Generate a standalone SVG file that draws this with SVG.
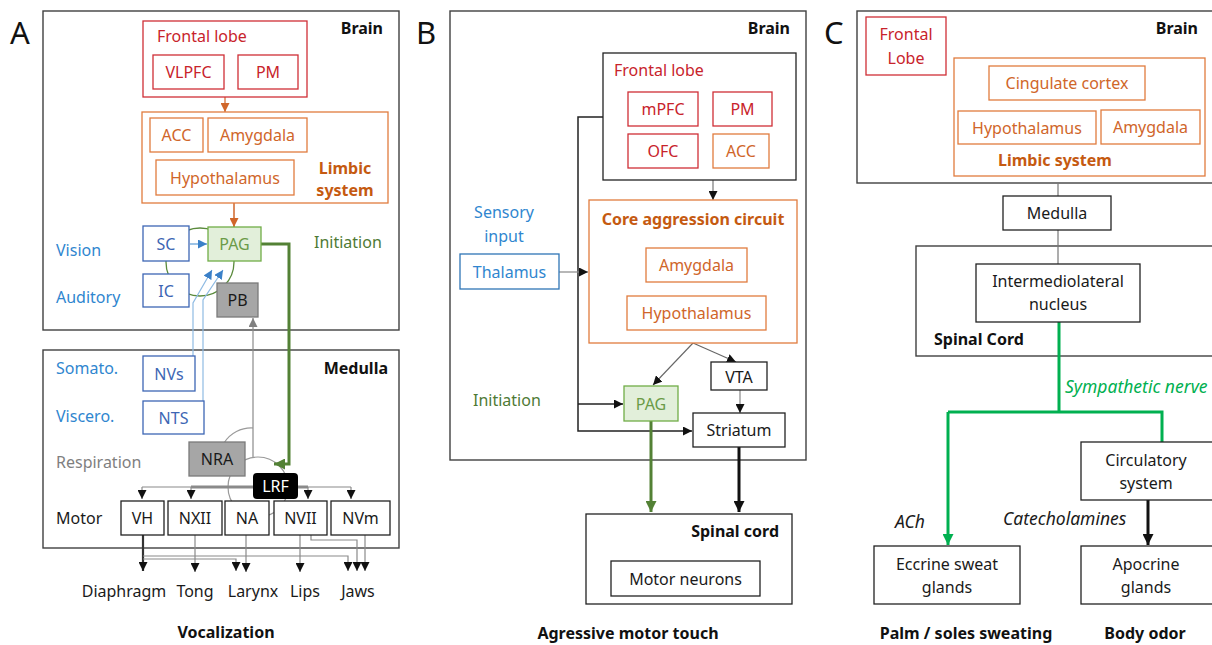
<svg xmlns="http://www.w3.org/2000/svg" width="1212" height="645" viewBox="0 0 1212 645">
<style>
text{font-family:"Noto Sans","Open Sans","DejaVu Sans",sans-serif;font-size:16px;}
.b{font-weight:bold;font-size:16px;fill:#111;}
.big{font-size:31px;fill:#111;}
.mid{text-anchor:middle;}
.end{text-anchor:end;}
.it{font-style:italic;font-size:17.5px;}
.frame{fill:#fff;stroke:#404040;stroke-width:1.4;}
.red{fill:#fff;stroke:#cf2f36;stroke-width:1.3;}
.redt{fill:#c8232b;}
.org{fill:#fff;stroke:#e07c3e;stroke-width:1.3;}
.orgt{fill:#d0662a;}
.orgb{fill:#c55a11;font-weight:bold;font-size:16px;}
.blu{fill:#fff;stroke:#3d66b4;stroke-width:1.3;}
.blut{fill:#3d66b4;}
.lbl{fill:#2f86cf;}
.pag{fill:#e2efda;stroke:#70ad47;stroke-width:1.3;}
.pagt{fill:#6b9b47;}
.grn{fill:#4f7a35;}
.gry{fill:#a6a6a6;stroke:#7a7a7a;stroke-width:1.3;}
.blk{fill:#fff;stroke:#222;stroke-width:1.3;}
.t{fill:#1a1a1a;}
</style>
<defs>
<marker id="aO" viewBox="0 0 10 10" refX="10" refY="5" markerWidth="9" markerHeight="9" markerUnits="userSpaceOnUse" orient="auto"><path d="M0,0 L10,5 L0,10 z" fill="#d0662a"/></marker>
<marker id="aB" viewBox="0 0 10 10" refX="10" refY="5" markerWidth="9" markerHeight="9" markerUnits="userSpaceOnUse" orient="auto"><path d="M0,0 L10,5 L0,10 z" fill="#3a80c8"/></marker>
<marker id="aG" viewBox="0 0 10 10" refX="10" refY="5" markerWidth="9" markerHeight="9" markerUnits="userSpaceOnUse" orient="auto"><path d="M0,0 L10,5 L0,10 z" fill="#808080"/></marker>
<marker id="aK" viewBox="0 0 10 10" refX="10" refY="5" markerWidth="9" markerHeight="9" markerUnits="userSpaceOnUse" orient="auto"><path d="M0,0 L10,5 L0,10 z" fill="#111"/></marker>
<marker id="aKb" viewBox="0 0 10 10" refX="10" refY="5" markerWidth="11" markerHeight="11" markerUnits="userSpaceOnUse" orient="auto"><path d="M0,0 L10,5 L0,10 z" fill="#111"/></marker>
<marker id="aV" viewBox="0 0 10 10" refX="10" refY="5" markerWidth="11" markerHeight="11" markerUnits="userSpaceOnUse" orient="auto"><path d="M0,0 L10,5 L0,10 z" fill="#538135"/></marker>
<marker id="aS" viewBox="0 0 10 10" refX="10" refY="5" markerWidth="11" markerHeight="11" markerUnits="userSpaceOnUse" orient="auto"><path d="M0,0 L10,5 L0,10 z" fill="#00b050"/></marker>
</defs>

<!-- Panel letters & frames -->
<text class="big" x="10" y="44">A</text>
<text class="big" x="416" y="44">B</text>
<text class="big" x="824" y="44">C</text>

<g id="A-brain"><rect class="frame" x="43" y="11" width="356" height="319"/><text class="b end" x="383" y="34">Brain</text></g>
<g id="A-medulla"><rect class="frame" x="43" y="350" width="356" height="198"/><text class="b end" x="388" y="374">Medulla</text></g>
<g id="B-brain"><rect class="frame" x="450" y="11" width="356" height="449"/><text class="b end" x="790" y="34">Brain</text></g>
<g id="C-brain"><rect class="frame" x="857" y="11" width="360" height="172"/><text class="b end" x="1198" y="34">Brain</text></g>
<g id="C-spinal"><rect class="frame" x="916" y="246" width="300" height="110"/><text class="b" x="934" y="345">Spinal Cord</text></g>

<!-- background arcs (behind nodes) -->
<g id="A-arcs" fill="none">
<circle cx="200" cy="262" r="34" stroke="#5a8a3c" stroke-width="1.3"/>
<circle cx="258" cy="487" r="30" stroke="#9a9a9a" stroke-width="1.2"/>
<path d="M224,443 A32,32 0 0 1 253,428" stroke="#9a9a9a" stroke-width="1.2"/>
</g>

<!-- Connectors -->
<g id="connectors" fill="none">
<!-- Panel A -->
<path d="M225,97 L225,112" stroke="#d0662a" stroke-width="1.2" marker-end="url(#aO)"/>
<path d="M234,203 L234,227" stroke="#d0662a" stroke-width="1.5" marker-end="url(#aO)"/>
<path d="M190,244 L207,244" stroke="#5b9bd5" stroke-width="1.2" marker-end="url(#aB)"/>
<path d="M193,356 L193,303 L212,270" stroke="#8fbbe3" stroke-width="1.2" marker-end="url(#aB)"/>
<path d="M203,401 L203,300 L223,270" stroke="#8fbbe3" stroke-width="1.2" marker-end="url(#aB)"/>
<path d="M253,457 L253,318" stroke="#8a8a8a" stroke-width="1.2" marker-end="url(#aG)"/>
<path d="M261,244 L289,244 L289,464 L274,464" stroke="#538135" stroke-width="3" marker-end="url(#aV)"/>
<path d="M142,487 L351,487" stroke="#8a8a8a" stroke-width="1.2"/>
<path d="M191,487 L308,487" stroke="#8a8a8a" stroke-width="3"/>
<path d="M142,487 L142,499" stroke="#8a8a8a" stroke-width="1.2" marker-end="url(#aK)"/>
<path d="M191,487 L191,499" stroke="#8a8a8a" stroke-width="1.2" marker-end="url(#aK)"/>
<path d="M308,487 L308,499" stroke="#8a8a8a" stroke-width="1.2" marker-end="url(#aK)"/>
<path d="M351,487 L351,499" stroke="#8a8a8a" stroke-width="1.2" marker-end="url(#aK)"/>
<path d="M143,535 L143,571" stroke="#333" stroke-width="2.2" marker-end="url(#aK)"/>
<path d="M143,556 L348,556 L348,571" stroke="#8a8a8a" stroke-width="1.2" marker-end="url(#aK)"/>
<path d="M143,559 L236,559 L236,571" stroke="#8a8a8a" stroke-width="1.2" marker-end="url(#aK)"/>
<path d="M195,535 L195,572" stroke="#8a8a8a" stroke-width="1.2" marker-end="url(#aK)"/>
<path d="M246,535 L246,572" stroke="#8a8a8a" stroke-width="1.2" marker-end="url(#aK)"/>
<path d="M300,535 L300,572" stroke="#8a8a8a" stroke-width="1.2" marker-end="url(#aK)"/>
<path d="M311,535 L311,540 L357,540 L357,571" stroke="#8a8a8a" stroke-width="1.2" marker-end="url(#aK)"/>
<path d="M365,535 L365,571" stroke="#8a8a8a" stroke-width="1.2" marker-end="url(#aK)"/>
<!-- Panel B -->
<path d="M713,180 L713,200" stroke="#777" stroke-width="1.2" marker-end="url(#aK)"/>
<path d="M603,117 L578,117 L578,431 L692,431" stroke="#222" stroke-width="1.5" marker-end="url(#aK)"/>
<path d="M578,404 L623,404" stroke="#222" stroke-width="1.5" marker-end="url(#aK)"/>
<path d="M559,272 L588,272" stroke="#888" stroke-width="1.2" marker-end="url(#aK)"/>
<path d="M693,343 L653,385" stroke="#666" stroke-width="1.1" marker-end="url(#aK)"/>
<path d="M693,343 L736,362" stroke="#666" stroke-width="1.1" marker-end="url(#aK)"/>
<path d="M697,282 L697,296" stroke="#d0662a" stroke-width="1.2" marker-end="url(#aO)"/>
<path d="M740,390 L740,413" stroke="#888" stroke-width="1.2" marker-end="url(#aK)"/>
<path d="M651,421 L651,512" stroke="#538135" stroke-width="3" marker-end="url(#aV)"/>
<path d="M739,447 L739,512" stroke="#111" stroke-width="3" marker-end="url(#aKb)"/>
<!-- Panel C -->
<path d="M1058,183 L1058,196 M1058,230 L1058,264" stroke="#777" stroke-width="1.2"/>
<path d="M1059,322 L1059,412 M948,412 L1162,412 L1162,442" stroke="#00b050" stroke-width="3"/>
<path d="M948,412 L948,545" stroke="#00b050" stroke-width="3" marker-end="url(#aS)"/>
<path d="M1148,500 L1148,545" stroke="#111" stroke-width="3" marker-end="url(#aKb)"/>
</g>

<!-- Panel A nodes -->
<g id="A-frontal"><rect class="red" x="143" y="21" width="164" height="76"/><text class="redt" x="157" y="42">Frontal lobe</text></g>
<g id="A-vlpfc"><rect class="red" x="153" y="55" width="71" height="34"/><text class="redt mid" x="188.5" y="78">VLPFC</text></g>
<g id="A-pm"><rect class="red" x="238" y="55" width="60" height="34"/><text class="redt mid" x="268" y="78">PM</text></g>
<g id="A-limbic"><rect class="org" x="142" y="112" width="246" height="91"/><text class="orgb mid" x="345" y="174">Limbic</text><text class="orgb mid" x="345" y="196">system</text></g>
<g id="A-acc"><rect class="org" x="150" y="118" width="53" height="34"/><text class="orgt mid" x="176.5" y="141">ACC</text></g>
<g id="A-amyg"><rect class="org" x="208" y="118" width="99" height="34"/><text class="orgt mid" x="257.5" y="141">Amygdala</text></g>
<g id="A-hypo"><rect class="org" x="156" y="160" width="138" height="35"/><text class="orgt mid" x="225" y="184">Hypothalamus</text></g>
<g id="A-sc"><rect class="blu" x="143" y="226" width="46" height="35"/><text class="blut mid" x="166" y="250">SC</text></g>
<g id="A-ic"><rect class="blu" x="143" y="274" width="46" height="33"/><text class="blut mid" x="166" y="297">IC</text></g>
<g id="A-pag"><rect class="pag" x="208" y="227" width="53" height="34"/><text class="pagt mid" x="234.5" y="250">PAG</text></g>
<g id="A-pb"><rect class="gry" x="217" y="283" width="41" height="34"/><text class="t mid" x="237.5" y="306">PB</text></g>
<g id="A-nvs"><rect class="blu" x="143" y="356" width="52" height="35"/><text class="blut mid" x="169" y="380">NVs</text></g>
<g id="A-nts"><rect class="blu" x="143" y="401" width="61" height="33"/><text class="blut mid" x="173.5" y="424">NTS</text></g>
<g id="A-nra"><rect class="gry" x="189" y="442" width="56" height="34"/><text class="t mid" x="217" y="465">NRA</text></g>
<g id="A-lrf"><rect x="253" y="473" width="45" height="26" rx="4" fill="#000"/><text class="mid" x="275.5" y="492" fill="#fff">LRF</text></g>
<g id="A-vh"><rect class="blk" x="121" y="501" width="43" height="34"/><text class="t mid" x="142.5" y="524">VH</text></g>
<g id="A-nxii"><rect class="blk" x="168" y="501" width="54" height="34"/><text class="t mid" x="195" y="524">NXII</text></g>
<g id="A-na"><rect class="blk" x="225" y="501" width="44" height="34"/><text class="t mid" x="247" y="524">NA</text></g>
<g id="A-nvii"><rect class="blk" x="274" y="501" width="53" height="34"/><text class="t mid" x="300.5" y="524">NVII</text></g>
<g id="A-nvm"><rect class="blk" x="331" y="501" width="59" height="34"/><text class="t mid" x="360.5" y="524">NVm</text></g>
<g id="A-labels">
<text class="lbl" x="56" y="256">Vision</text>
<text class="lbl" x="56" y="303">Auditory</text>
<text class="grn" x="314" y="248">Initiation</text>
<text class="lbl" x="56" y="374">Somato.</text>
<text class="lbl" x="56" y="422">Viscero.</text>
<text x="56" y="468" fill="#7f7f7f">Respiration</text>
<text class="t" x="56" y="524">Motor</text>
<text class="t mid" x="124" y="597">Diaphragm</text>
<text class="t mid" x="195" y="597">Tong</text>
<text class="t mid" x="253" y="597">Larynx</text>
<text class="t mid" x="305" y="597">Lips</text>
<text class="t mid" x="358" y="597">Jaws</text>
<text class="b mid" x="226" y="638">Vocalization</text>
</g>

<!-- Panel B nodes -->
<g id="B-frontal"><rect class="blk" x="603" y="53" width="193" height="127"/><text class="redt" x="614" y="76">Frontal lobe</text></g>
<g id="B-mpfc"><rect class="red" x="628" y="92" width="70" height="34"/><text class="redt mid" x="663" y="115">mPFC</text></g>
<g id="B-pm"><rect class="red" x="713" y="92" width="59" height="34"/><text class="redt mid" x="742.5" y="115">PM</text></g>
<g id="B-ofc"><rect class="red" x="628" y="134" width="70" height="34"/><text class="redt mid" x="663" y="157">OFC</text></g>
<g id="B-acc"><rect class="org" x="713" y="134" width="56" height="34"/><text class="orgt mid" x="741" y="157">ACC</text></g>
<g id="B-core"><rect class="org" x="589" y="200" width="208" height="143"/><text class="orgb mid" x="693" y="225">Core aggression circuit</text></g>
<g id="B-amyg"><rect class="org" x="646" y="248" width="101" height="34"/><text class="orgt mid" x="696.5" y="271">Amygdala</text></g>
<g id="B-hypo"><rect class="org" x="627" y="296" width="139" height="34"/><text class="orgt mid" x="696.5" y="319">Hypothalamus</text></g>
<g id="B-thal"><rect x="460" y="254" width="99" height="35" fill="#fff" stroke="#2e75b6" stroke-width="1.3"/><text class="lbl mid" x="509.5" y="278">Thalamus</text></g>
<g id="B-vta"><rect class="blk" x="711" y="362" width="56" height="28"/><text class="t mid" x="739" y="383">VTA</text></g>
<g id="B-striatum"><rect class="blk" x="693" y="413" width="92" height="34"/><text class="t mid" x="739" y="436">Striatum</text></g>
<g id="B-pag"><rect class="pag" x="624" y="386" width="54" height="35"/><text class="pagt mid" x="651" y="410">PAG</text></g>
<g id="B-spinal"><rect class="blk" x="586" y="514" width="206" height="90"/><text class="b end" x="779" y="537">Spinal cord</text></g>
<g id="B-motor"><rect class="blk" x="611" y="561" width="149" height="35"/><text class="t mid" x="685.5" y="585">Motor neurons</text></g>
<g id="B-labels">
<text class="lbl mid" x="504" y="218">Sensory</text>
<text class="lbl mid" x="504" y="242">input</text>
<text class="grn" x="473" y="406">Initiation</text>
<text class="b mid" x="628" y="639">Agressive motor touch</text>
</g>

<!-- Panel C nodes -->
<g id="C-frontal"><rect class="red" x="866" y="17" width="80" height="58"/><text class="redt mid" x="906" y="40">Frontal</text><text class="redt mid" x="906" y="64">Lobe</text></g>
<g id="C-limbic"><rect class="org" x="954" y="58" width="251" height="118"/><text class="orgb mid" x="1055" y="166">Limbic system</text></g>
<g id="C-cing"><rect class="org" x="989" y="66" width="156" height="34"/><text class="orgt mid" x="1067" y="89">Cingulate cortex</text></g>
<g id="C-hypo"><rect class="org" x="958" y="111" width="138" height="33"/><text class="orgt mid" x="1027" y="134">Hypothalamus</text></g>
<g id="C-amyg"><rect class="org" x="1101" y="110" width="99" height="34"/><text class="orgt mid" x="1150.5" y="133">Amygdala</text></g>
<g id="C-medulla"><rect class="blk" x="1003" y="196" width="108" height="34"/><text class="t mid" x="1057" y="219">Medulla</text></g>
<g id="C-iml"><rect class="blk" x="976" y="264" width="164" height="58"/><text class="t mid" x="1058" y="287">Intermediolateral</text><text class="t mid" x="1058" y="310">nucleus</text></g>
<g id="C-circ"><rect class="blk" x="1081" y="442" width="140" height="58"/><text class="t mid" x="1146" y="466">Circulatory</text><text class="t mid" x="1146" y="489">system</text></g>
<g id="C-eccrine"><rect class="blk" x="874" y="546" width="146" height="58"/><text class="t mid" x="947" y="570">Eccrine sweat</text><text class="t mid" x="947" y="593">glands</text></g>
<g id="C-apocrine"><rect class="blk" x="1081" y="546" width="140" height="58"/><text class="t mid" x="1146" y="570">Apocrine</text><text class="t mid" x="1146" y="593">glands</text></g>
<g id="C-labels">
<text class="it" x="1065" y="393" fill="#00b050">Sympathetic nerve</text>
<text class="it t" x="895" y="528">ACh</text>
<text class="it t" x="1003" y="525">Catecholamines</text>
<text class="b mid" x="966" y="639">Palm / soles sweating</text>
<text class="b mid" x="1145" y="639">Body odor</text>
</g>
</svg>
